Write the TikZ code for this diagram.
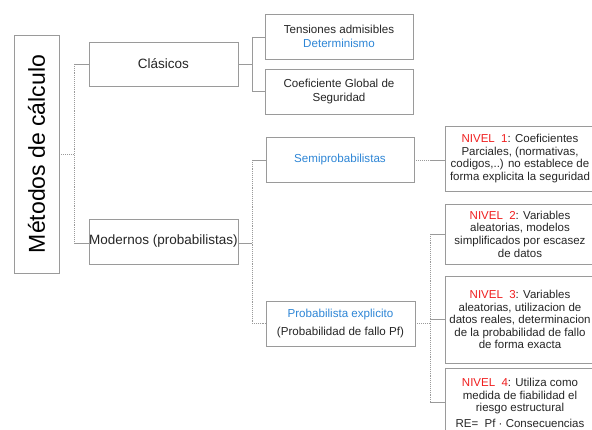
\documentclass[tikz,border=0pt]{standalone}
\usepackage{fontspec}
\setmainfont{Liberation Sans}
\definecolor{bordergray}{HTML}{9A9A9A}
\definecolor{txt}{HTML}{262626}
\definecolor{lblue}{HTML}{2E86D6}
\definecolor{lred}{HTML}{F01E1E}
\begin{document}
\begin{tikzpicture}[x=1pt,y=-1pt,
  box/.style={draw=bordergray,line width=0.9pt,rectangle,inner sep=0pt,text=txt,align=center},
  midtext/.style={font=\fontsize{13.5}{16}\selectfont},
  smalltext/.style={font=\fontsize{11.6}{13.5}\selectfont},
  niveltext/.style={font=\fontsize{11.5}{12.6}\selectfont},
  solidline/.style={draw=bordergray,line width=0.9pt},
  dotline/.style={draw=bordergray,line width=0.9pt,densely dotted}]
\clip (0,0) rectangle (592,430);
\fill[white] (0,0) rectangle (592,430);

% main box
\node[box,rotate=90,anchor=center,
      minimum width=238pt,minimum height=45pt,font=\fontsize{23}{26}\selectfont,text=black]
      (main) at (36.5,154) {Métodos de cálculo};

% level 1
\node[box,midtext,minimum width=149pt,minimum height=44pt] (clas) at (163.5,64) {Clásicos};
\node[box,midtext,minimum width=149pt,minimum height=45pt] (mod) at (163.5,241.5) {Modernos (probabilistas)};

% level 2
\node[box,smalltext,minimum width=148pt,minimum height=45pt] (tens) at (339,36.5)
  {Tensiones admisibles\\\textcolor{lblue}{Determinismo}};
\node[box,smalltext,minimum width=148pt,minimum height=45pt] (coef) at (339,91.5)
  {Coeficiente Global de\\Seguridad};
\node[box,smalltext,minimum width=148pt,minimum height=45pt] (semi) at (340,159.5)
  {\textcolor{lblue}{Semiprobabilistas}};
\node[box,smalltext,minimum width=149pt,minimum height=45pt] (prob) at (340.5,323.5)
  {\textcolor{lblue}{Probabilista explicito}\\[4pt](Probabilidad de fallo Pf)};

% level 3
\node[box,niveltext,minimum width=150pt,minimum height=65pt] (n1) at (520,158.5)
  {\textcolor{lred}{NIVEL\ \ 1}: Coeficientes\\Parciales, (normativas,\\codigos,..) no establece de\\forma explicita la seguridad};
\node[box,niveltext,minimum width=150pt,minimum height=60pt] (n2) at (520,234)
  {\textcolor{lred}{NIVEL\ \ 2}: Variables\\aleatorias, modelos\\simplificados por escasez\\de datos};
\node[box,niveltext,minimum width=150pt,minimum height=87pt] (n3) at (520,319.5)
  {\textcolor{lred}{NIVEL\ \ 3}: Variables\\aleatorias, utilizacion de\\datos reales, determinacion\\de la probabilidad de fallo\\de forma exacta};
\node[box,niveltext,minimum width=150pt,minimum height=70pt] (n4) at (520,403)
  {\textcolor{lred}{NIVEL\ \ 4}: Utiliza como\\medida de fiabilidad el\\riesgo estructural\\[3pt]RE=\ \ Pf · Consecuencias};

% connector points
\coordinate (j0) at (74,154);
\coordinate (j0a) at (74,64);
\coordinate (j0b) at (74,243);
\coordinate (j1) at (252,64);
\coordinate (j1a) at (252,37);
\coordinate (j1b) at (252,91.5);
\coordinate (j2) at (252,243);
\coordinate (j2a) at (252,160);
\coordinate (j2b) at (252,323);
\coordinate (j3) at (430,160);
\coordinate (j4) at (430,323);
\coordinate (j4a) at (430,234);
\coordinate (j4b) at (430,319);
\coordinate (j4c) at (430,402);

% connectors
\draw[dotline] (main.south |- j0) -- (j0);
\draw[dotline] (j0a) -- (j0b);
\draw[solidline] (j0a) -- (clas.west |- j0a);
\draw[solidline] (j0b) -- (mod.west |- j0b);

\draw[solidline] (clas.east |- j1) -- (j1);
\draw[solidline] (j1a) -- (j1b);
\draw[solidline] (j1a) -- (tens.west |- j1a);
\draw[solidline] (j1b) -- (coef.west |- j1b);

\draw[solidline] (mod.east |- j2) -- (j2);
\draw[dotline] (j2a) -- (j2b);
\draw[solidline] (j2a) -- (semi.west |- j2a);
\draw[dotline] (j2b) -- (prob.west |- j2b);

\draw[dotline] (semi.east |- j3) -- (j3);
\draw[solidline] (j3) -- (n1.west |- j3);

\draw[dotline] (prob.east |- j4) -- (j4);
\draw[dotline] (j4a) -- (j4c);
\draw[solidline] (j4a) -- (n2.west |- j4a);
\draw[solidline] (j4b) -- (n3.west |- j4b);
\draw[solidline] (j4c) -- (n4.west |- j4c);
\end{tikzpicture}
\end{document}
